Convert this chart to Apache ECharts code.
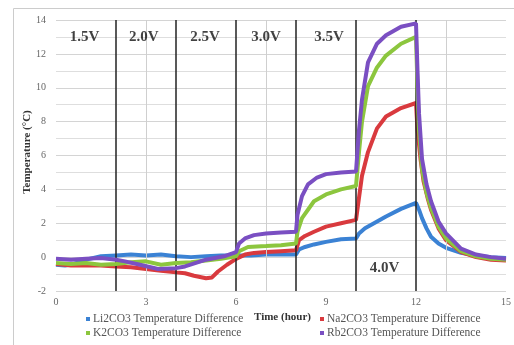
<!DOCTYPE html>
<html><head><meta charset="utf-8">
<script src="https://cdn.jsdelivr.net/npm/echarts@6/dist/echarts.min.js"></script>
<style>html,body{margin:0;padding:0;background:#fff}#c{width:514px;height:345px}</style>
</head><body><div id="c"></div>
<script>
const seriesNames = ['Li2CO3 Temperature Difference','Na2CO3 Temperature Difference','K2CO3 Temperature Difference','Rb2CO3 Temperature Difference'];
const li2co3 = [[0,-0.45],[0.3,-0.5],[0.6,-0.4],[1,-0.15],[1.5,0.05],[2,0.1],[2.5,0.15],[3,0.1],[3.5,0.15],[4,0.05],[4.5,0.0],[5,0.05],[5.5,0.1],[6,0.1],[6.5,0.1],[7,0.15],[7.5,0.15],[8,0.15],[8.1,0.45],[8.3,0.6],[8.6,0.75],[9,0.9],[9.5,1.05],[10,1.1],[10.1,1.4],[10.3,1.7],[10.6,2.0],[11,2.4],[11.5,2.85],[12,3.2],[12.1,2.8],[12.2,2.3],[12.35,1.7],[12.5,1.2],[12.75,0.8],[13,0.55],[13.5,0.25],[14,0.1],[14.5,0.0],[15,-0.05]];
const na2co3 = [[0,-0.4],[0.5,-0.5],[1,-0.5],[1.5,-0.5],[2,-0.55],[2.5,-0.6],[3,-0.7],[3.5,-0.8],[4,-0.9],[4.3,-0.95],[4.6,-1.1],[5,-1.25],[5.2,-1.2],[5.4,-0.85],[5.7,-0.45],[6,-0.1],[6.3,0.15],[6.6,0.25],[7,0.3],[7.5,0.35],[8,0.4],[8.1,1.0],[8.3,1.25],[8.6,1.5],[9,1.8],[9.5,2.0],[10,2.2],[10.1,3.5],[10.2,4.8],[10.4,6.2],[10.7,7.6],[11,8.3],[11.5,8.8],[12,9.1],[12.05,7.5],[12.15,5.8],[12.25,4.5],[12.4,3.4],[12.5,2.8],[12.75,1.7],[13,1.0],[13.5,0.3],[14,0.0],[14.5,-0.15],[15,-0.2]];
const k2co3 = [[0,-0.35],[0.5,-0.4],[1,-0.35],[1.5,-0.45],[2,-0.4],[2.5,-0.3],[3,-0.25],[3.5,-0.45],[4,-0.35],[4.5,-0.3],[5,-0.2],[5.5,-0.1],[6,0.05],[6.1,0.35],[6.4,0.6],[7,0.65],[7.5,0.7],[8,0.8],[8.05,1.5],[8.2,2.3],[8.6,3.3],[9,3.7],[9.5,4.0],[10,4.2],[10.1,6.2],[10.2,8.0],[10.4,10.1],[10.7,11.2],[11,11.9],[11.5,12.6],[12,13.0],[12.05,10],[12.1,7.5],[12.2,5.2],[12.35,3.8],[12.5,2.9],[12.75,1.8],[13,1.1],[13.5,0.35],[14,0.05],[14.5,-0.1],[15,-0.15]];
const rb2co3 = [[0,-0.1],[0.5,-0.15],[1,-0.1],[1.5,-0.05],[2,-0.15],[2.3,-0.25],[2.8,-0.45],[3.4,-0.7],[4,-0.65],[4.3,-0.55],[5,-0.15],[5.6,0.05],[6,0.3],[6.1,0.8],[6.3,1.1],[6.6,1.3],[7,1.4],[7.5,1.45],[8,1.5],[8.05,2.5],[8.2,3.6],[8.4,4.3],[8.7,4.7],[9,4.9],[9.5,5.0],[10,5.05],[10.1,7.5],[10.2,9.3],[10.4,11.5],[10.7,12.6],[11,13.1],[11.5,13.6],[12,13.8],[12.05,11],[12.1,8.5],[12.2,5.8],[12.35,4.3],[12.5,3.3],[12.75,2.1],[13,1.4],[13.5,0.5],[14,0.15],[14.5,0.0],[15,-0.1]];
const colors = ['#3b82d4','#d93a3e','#8cc63e','#7a4fc2'];
const voltageLines = [2,4,6,8,10,12];
const grayLines = [3,7,13];
const voltageLabels = [['1.5V',0.95,13.0],['2.0V',2.93,13.0],['2.5V',4.97,13.0],['3.0V',7.0,13.0],['3.5V',9.1,13.0],['4.0V',10.95,-0.65]];
const xTicks = {min:0,max:15,interval:3};
const yTicks = {min:-2,max:14,interval:2};

const serif = 'Liberation Serif';
const chart = echarts.init(document.getElementById('c'));
const dataSets = [li2co3, na2co3, k2co3, rb2co3];
const series = dataSets.map((d,i)=>({
  name: seriesNames[i], type:'line', data:d, showSymbol:false, symbol:'rect', symbolSize:4,
  lineStyle:{width:4,color:colors[i]}, itemStyle:{color:colors[i]}, z:3+i, animation:false
}));
series[0].markLine = {
  silent:true, symbol:['none','none'], label:{show:false}, animation:false,
  data: voltageLines.map(v=>({xAxis:v, lineStyle:{color:'#222',width:1.5,type:'solid'}}))
    .concat(grayLines.map(v=>({xAxis:v, lineStyle:{color:'#cfcfcf',width:1,type:'solid'}})))
};
series.push({
  type:'scatter', data: voltageLabels.map(l=>({value:[l[1],l[2]], name:l[0]})),
  symbolSize:0, z:10, animation:false, silent:true,
  label:{show:true, position:'inside', formatter:p=>p.name, fontFamily:serif, fontWeight:'bold', fontSize:15, color:'#111'}
});
const legendPos = [[86,313],[320,313],[86,327],[320,327]];
const legends = seriesNames.map((n,i)=>({
  data:[n], left:legendPos[i][0], top:legendPos[i][1], padding:0,
  icon:'rect', itemWidth:4, itemHeight:4,
  textStyle:{fontFamily:serif,fontSize:11.5,color:'#555',padding:[0,0,0,-2]}
}));
chart.setOption({
  animation:false,
  grid:{left:56,right:2,top:20,bottom:54},
  xAxis:{type:'value',min:xTicks.min,max:xTicks.max,interval:xTicks.interval,
    axisLine:{show:false},axisTick:{show:false},splitLine:{show:false},
    axisLabel:{fontFamily:serif,fontSize:10,color:'#666',margin:6}},
  yAxis:{type:'value',min:yTicks.min,max:yTicks.max,interval:yTicks.interval,
    axisLine:{show:false},axisTick:{show:false},
    splitLine:{lineStyle:{color:'#d4d4d4',width:1}},
    minorTick:{show:false,splitNumber:2},
    minorSplitLine:{show:true,lineStyle:{color:'#dedede',width:1}},
    axisLabel:{fontFamily:serif,fontSize:10,color:'#666',margin:10}},
  legend:legends,
  graphic:[
    {type:'rect',shape:{x:13.5,y:8.5,width:520,height:360},style:{fill:null,stroke:'#cccccc',lineWidth:1},silent:true},
    {type:'text',x:27,y:152,rotation:Math.PI/2,style:{text:'Temperature (°C)',font:'bold 11px "Liberation Serif"',fill:'#333',align:'center',verticalAlign:'middle'}},
    {type:'text',left:254,top:312,style:{text:'Time (hour)',font:'bold 11px "Liberation Serif"',fill:'#333'}}
  ],
  series:series
});
</script></body></html>
